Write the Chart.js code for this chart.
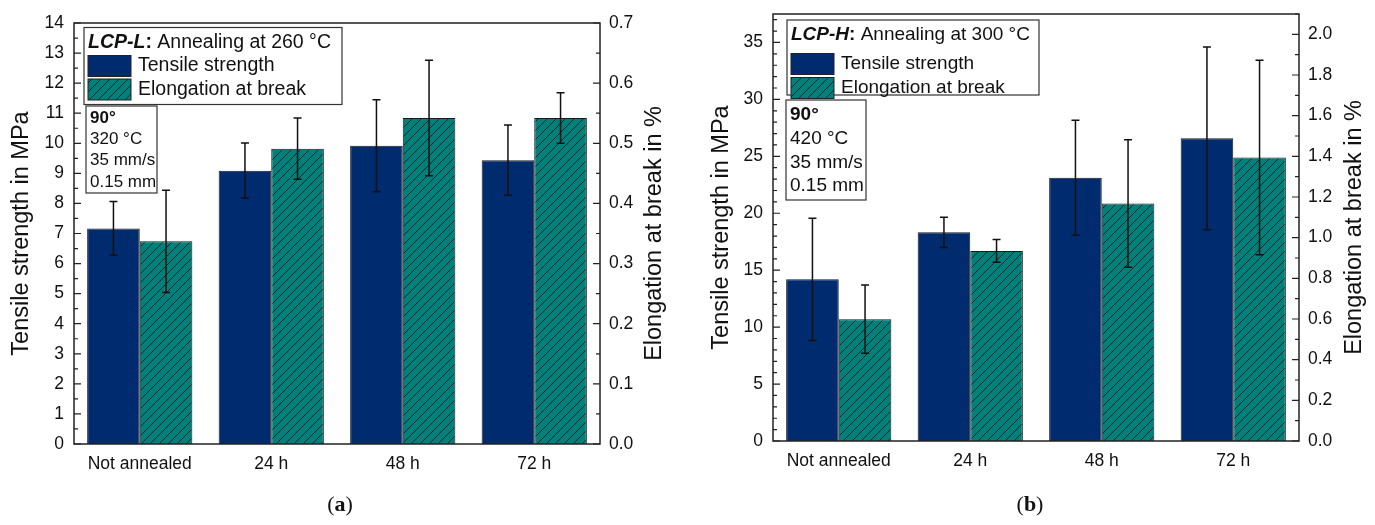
<!DOCTYPE html>
<html>
<head>
<meta charset="utf-8">
<script src="https://cdn.jsdelivr.net/npm/chart.js@4"></script>
<style>
  body { margin: 0; background: #fff; }
  canvas { position: absolute; top: 0; }
  #chartA { left: 0; }
  #chartB { left: 690px; }
</style>
</head>
<body>
<canvas id="chartA" width="680" height="525"></canvas>
<canvas id="chartB" width="685" height="525"></canvas>
<script>
// Categories shared by both panels
const categories = ["Not annealed", "24 h", "48 h", "72 h"];

// Panel (a): LCP-L
const tensileL = [7.17, 9.09, 9.92, 9.44];
const tensileErrL = [0.89, 0.92, 1.53, 1.17];
const elongL = [0.337, 0.491, 0.542, 0.542];
const elongErrL = [0.085, 0.051, 0.096, 0.042];
const tensileTicksL = [0, 1, 2, 3, 4, 5, 6, 7, 8, 9, 10, 11, 12, 13, 14];
const elongTicksL = [0, 0.1, 0.2, 0.3, 0.4, 0.5, 0.6, 0.7];

// Panel (b): LCP-H
const tensileH = [14.2, 18.33, 23.12, 26.58];
const tensileErrH = [5.37, 1.33, 5.05, 8.03];
const elongH = [0.599, 0.935, 1.168, 1.394];
const elongErrH = [0.168, 0.056, 0.313, 0.478];
const tensileTicksH = [0, 5, 10, 15, 20, 25, 30, 35];
const elongTicksH = [0, 0.2, 0.4, 0.6, 0.8, 1.0, 1.2, 1.4, 1.6, 1.8, 2.0];

const navy = "#002b6e";
const teal = "#00807a";
const ink = "#1a1a1a";
const FONT = "'Liberation Sans', Arial, sans-serif";

// Hatched fill for the elongation bars
let makeHatch = () => {
    const c = document.createElement("canvas");
    c.width = 9; c.height = 9;
    const g = c.getContext("2d");
    g.fillStyle = teal;
    g.fillRect(0, 0, 9, 9);
    g.strokeStyle = "#0c2624";
    g.lineWidth = 1;
    g.beginPath();
    g.moveTo(0, 9); g.lineTo(9, 0);
    g.moveTo(-1, 1); g.lineTo(1, -1);
    g.moveTo(8, 10); g.lineTo(10, 8);
    g.stroke();
    return g.createPattern(c, "repeat");
};
const hatch = makeHatch();

// Draws frame, inward ticks, error bars, boxes, titles
const panelPlugin = {
    id: "panel",
    afterDatasetsDraw(chart, args, o) {
        const ctx = chart.ctx;
        const a = chart.chartArea;

        // error bars
        ctx.save();
        ctx.strokeStyle = "#111";
        ctx.lineWidth = 1.5;
        chart.data.datasets.forEach((ds, i) => {
            const meta = chart.getDatasetMeta(i);
            const sc = chart.scales[ds.yAxisID];
            meta.data.forEach((bar, j) => {
                const v = ds.data[j], e = ds.errors[j];
                const y1 = sc.getPixelForValue(v + e), y2 = sc.getPixelForValue(v - e);
                ctx.beginPath();
                ctx.moveTo(bar.x, y1); ctx.lineTo(bar.x, y2);
                ctx.moveTo(bar.x - 4, y1); ctx.lineTo(bar.x + 4, y1);
                ctx.moveTo(bar.x - 4, y2); ctx.lineTo(bar.x + 4, y2);
                ctx.stroke();
            });
        });
        ctx.restore();

        // frame
        ctx.save();
        ctx.strokeStyle = "#222";
        ctx.lineWidth = 1.5;
        ctx.strokeRect(a.left, a.top, a.right - a.left, a.bottom - a.top);

        // inward ticks, major from tick list, minor in between
        let drawTicks = (sc, ticks, minorCount, side) => {
            ctx.lineWidth = 1.2;
            ctx.beginPath();
            for (let k = 0; k < ticks.length; k++) {
                const y = sc.getPixelForValue(ticks[k]);
                const x0 = side === "left" ? a.left : a.right;
                const d = side === "left" ? 1 : -1;
                ctx.moveTo(x0, y); ctx.lineTo(x0 + d * 7, y);
                const step = k < ticks.length - 1 ? ticks[k + 1] - ticks[k] : ticks[1] - ticks[0];
                for (let m = 1; m < minorCount; m++) {
                    const yv = ticks[k] + step * m / minorCount;
                    if (yv > sc.max + 1e-9) break;
                    const ym = sc.getPixelForValue(yv);
                    ctx.moveTo(x0, ym); ctx.lineTo(x0 + d * 4, ym);
                }
            }
            ctx.stroke();
        };
        drawTicks(chart.scales.y, o.leftTicks, o.leftMinor, "left");
        drawTicks(chart.scales.y1, o.rightTicks, o.rightMinor, "right");
        ctx.restore();

        // legend box
        const lb = o.legendBox;
        ctx.save();
        ctx.fillStyle = "#fff";
        ctx.strokeStyle = "#333";
        ctx.lineWidth = 1.2;
        ctx.fillRect(a.left + lb.x, a.top + lb.y, lb.w, lb.h);
        ctx.strokeRect(a.left + lb.x, a.top + lb.y, lb.w, lb.h);
        ctx.fillStyle = "#111";
        ctx.textBaseline = "middle";
        let tx = a.left + lb.x + 4;
        o.legendTitle.forEach(part => {
            ctx.font = part.style + " " + lb.font + "px " + FONT;
            ctx.fillText(part.text, tx, a.top + lb.y + lb.titleY);
            tx += ctx.measureText(part.text).width;
        });
        const items = [
            { label: "Tensile strength", fill: navy },
            { label: "Elongation at break", fill: hatch }
        ];
        items.forEach((it, k) => {
            const sy = a.top + lb.y + lb.rowY[k];
            ctx.fillStyle = it.fill;
            ctx.fillRect(a.left + lb.x + 4, sy - 10.5, 43, 21);
            ctx.strokeStyle = "#222";
            ctx.lineWidth = 1;
            ctx.strokeRect(a.left + lb.x + 4, sy - 10.5, 43, 21);
            ctx.fillStyle = "#111";
            ctx.font = lb.font + "px " + FONT;
            ctx.fillText(it.label, a.left + lb.x + 54, sy);
        });
        ctx.restore();

        // print parameter box
        const pb = o.paramBox;
        ctx.save();
        ctx.fillStyle = "#fff";
        ctx.strokeStyle = "#333";
        ctx.lineWidth = 1.2;
        ctx.fillRect(a.left + pb.x, a.top + pb.y, pb.w, pb.h);
        ctx.strokeRect(a.left + pb.x, a.top + pb.y, pb.w, pb.h);
        ctx.fillStyle = "#111";
        ctx.textBaseline = "middle";
        o.paramLines.forEach((line, k) => {
            ctx.font = (k === 0 ? "bold " : "") + pb.font + "px " + FONT;
            ctx.fillText(line, a.left + pb.x + 4, a.top + pb.y + pb.firstY + k * pb.lineH);
        });
        ctx.restore();

        // axis titles, both reading bottom to top
        const cy = (a.top + a.bottom) / 2;
        ctx.save();
        ctx.fillStyle = "#111";
        ctx.font = o.titleFont + "px " + FONT;
        ctx.textAlign = "center";
        ctx.textBaseline = "middle";
        [[o.leftTitleX, "Tensile strength in MPa"], [o.rightTitleX, "Elongation at break in %"]].forEach(t => {
            ctx.save();
            ctx.translate(t[0], cy);
            ctx.rotate(-Math.PI / 2);
            ctx.fillText(t[1], 0, 0);
            ctx.restore();
        });

        // panel label (a) / (b)
        ctx.font = "22px 'Liberation Serif', serif";
        ctx.textAlign = "left";
        const lw1 = ctx.measureText("(").width;
        ctx.font = "bold 22px 'Liberation Serif', serif";
        const lw2 = ctx.measureText(o.panel).width;
        ctx.font = "22px 'Liberation Serif', serif";
        const lw3 = ctx.measureText(")").width;
        let px = o.panelX - (lw1 + lw2 + lw3) / 2;
        ctx.fillText("(", px, 505);
        ctx.font = "bold 22px 'Liberation Serif', serif";
        ctx.fillText(o.panel, px + lw1, 505);
        ctx.font = "22px 'Liberation Serif', serif";
        ctx.fillText(")", px + lw1 + lw2, 505);
        ctx.restore();
    }
};

let makeChart = (id, d) => {
    const ctx = document.getElementById(id).getContext("2d");
    return new Chart(ctx, {
        type: "bar",
        data: {
            labels: categories,
            datasets: [{
                label: "Tensile strength",
                data: d.tensile,
                errors: d.tensileErr,
                yAxisID: "y",
                backgroundColor: navy,
                borderColor: ink,
                borderWidth: 1
            }, {
                label: "Elongation at break",
                data: d.elong,
                errors: d.elongErr,
                yAxisID: "y1",
                backgroundColor: hatch,
                borderColor: ink,
                borderWidth: 1
            }]
        },
        options: {
            responsive: false,
            animation: false,
            devicePixelRatio: 1,
            layout: { padding: { top: d.top, left: 0, right: 0, bottom: 0 } },
            datasets: { bar: { categoryPercentage: 0.8, barPercentage: 1.0 } },
            plugins: {
                legend: { display: false },
                tooltip: { enabled: false },
                panel: d.panel
            },
            scales: {
                x: {
                    grid: { display: false, drawTicks: false },
                    border: { display: false },
                    ticks: { color: "#111", font: { size: 17.5, family: FONT }, padding: 10 },
                    afterFit: s => { s.height = 525 - d.bottom; s.paddingLeft = 0; s.paddingRight = 0; }
                },
                y: {
                    position: "left",
                    min: 0,
                    max: d.yMax,
                    grid: { display: false, drawTicks: false },
                    border: { display: false },
                    ticks: { color: "#111", font: { size: 17.5, family: FONT }, padding: 10 },
                    afterBuildTicks: s => { s.ticks = d.tensileTicks.map(v => ({ value: v })); },
                    afterFit: s => { s.width = d.left; s.paddingTop = 0; s.paddingBottom = 0; }
                },
                y1: {
                    position: "right",
                    min: 0,
                    max: d.y1Max,
                    grid: { display: false, drawTicks: false },
                    border: { display: false },
                    ticks: {
                        color: "#111", font: { size: 17.5, family: FONT }, padding: 9,
                        callback: v => Number(v).toFixed(1)
                    },
                    afterBuildTicks: s => { s.ticks = d.elongTicks.map(v => ({ value: v })); },
                    afterFit: s => { s.width = d.width - d.right; s.paddingTop = 0; s.paddingBottom = 0; }
                }
            }
        },
        plugins: [panelPlugin]
    });
};

makeChart("chartA", {
    tensile: tensileL, tensileErr: tensileErrL, elong: elongL, elongErr: elongErrL,
    tensileTicks: tensileTicksL, elongTicks: elongTicksL,
    yMax: 14, y1Max: 0.7,
    width: 680, top: 23, bottom: 444, left: 74, right: 600,
    panel: {
        leftTicks: tensileTicksL, leftMinor: 2, rightTicks: elongTicksL, rightMinor: 2,
        legendTitle: [
            { text: "LCP-L", style: "italic bold" },
            { text: ":", style: "bold" },
            { text: " Annealing at 260 °C", style: "" }
        ],
        legendBox: { x: 10, y: 4.5, w: 258, h: 77, font: 19.5, titleY: 15, rowY: [38.5, 62] },
        paramLines: ["90°", "320 °C", "35 mm/s", "0.15 mm"],
        paramBox: { x: 12, y: 83, w: 71, h: 87, font: 17, firstY: 12, lineH: 21.3 },
        titleFont: 23.5, leftTitleX: 22, rightTitleX: 655,
        panel: "a", panelX: 340
    }
});

makeChart("chartB", {
    tensile: tensileH, tensileErr: tensileErrH, elong: elongH, elongErr: elongErrH,
    tensileTicks: tensileTicksH, elongTicks: elongTicksH,
    yMax: 37.5, y1Max: 2.1,
    width: 685, top: 14, bottom: 441, left: 83, right: 609,
    panel: {
        leftTicks: tensileTicksH, leftMinor: 5, rightTicks: elongTicksH, rightMinor: 2,
        legendTitle: [
            { text: "LCP-H", style: "italic bold" },
            { text: ":", style: "bold" },
            { text: " Annealing at 300 °C", style: "" }
        ],
        legendBox: { x: 14, y: 6, w: 252, h: 75, font: 19, titleY: 14.5, rowY: [44, 68] },
        paramLines: ["90°", "420 °C", "35 mm/s", "0.15 mm"],
        paramBox: { x: 13, y: 86, w: 80, h: 100, font: 19, firstY: 15, lineH: 23.7 },
        titleFont: 23.5, leftTitleX: 32, rightTitleX: 665,
        panel: "b", panelX: 340
    }
});
</script>
</body>
</html>
